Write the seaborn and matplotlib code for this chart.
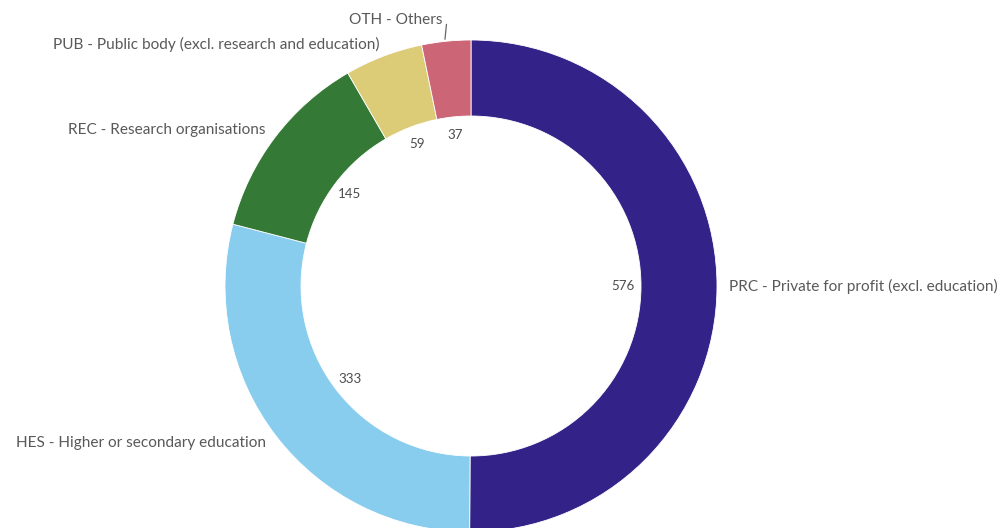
import numpy as np
import seaborn as sns
import matplotlib.pyplot as plt

codes = ['PRC', 'HES', 'REC', 'PUB', 'OTH']
names = ['Private for profit (excl. education)',
         'Higher or secondary education',
         'Research organisations',
         'Public body (excl. research and education)',
         'Others']
counts = [576, 333, 145, 59, 37]
colours = ['#332288', '#88CCEE', '#347935', '#DDCC77', '#CC6677']

sns.set_style('white')
plt.rcParams['font.family'] = ['Lato', 'DejaVu Sans']

fig = plt.figure(figsize=(10.05, 5.28), dpi=100)
ax = fig.add_axes([0, 0, 1, 1])

# donut geometry in pixel units
cx, cy = 471, 242
R = 246
hole = 170

wedges, _ = ax.pie(counts, colors=colours, startangle=90, counterclock=False,
                   center=(cx, cy), radius=R,
                   wedgeprops=dict(width=R - hole, edgecolor='white', linewidth=0.6))
ax.set_xlim(0, 1005)
ax.set_ylim(0, 528)
ax.set_aspect('equal')
ax.axis('off')

txt = '#595959'
for w, code, name, n in zip(wedges, codes, names, counts):
    mid = np.deg2rad((w.theta1 + w.theta2) / 2)
    c, s = np.cos(mid), np.sin(mid)
    # value inside the hole
    ax.text(cx + 152 * c, cy + 152 * s, str(n), ha='center', va='center',
            fontsize=9.6, color='#4d4d4d')
    label = code + ' - ' + name
    ha = 'left' if c > -0.01 else 'right'
    if code == 'OTH':
        # pushed up to avoid the PUB label, with a short leader
        ax.plot([cx + 248 * c - 1, cx + 263 * c + 2], [cy + 248 * s, cy + 263 * s],
                color='#666666', lw=0.9)
        ax.text(cx + 258 * c - 2, cy + 258 * s + 9, label, ha='right', va='center',
                fontsize=11.1, color=txt)
    else:
        ax.text(cx + 258 * c, cy + 258 * s, label, ha=ha, va='center',
                fontsize=11.1, color=txt)

fig.savefig('out.png', dpi=100)
